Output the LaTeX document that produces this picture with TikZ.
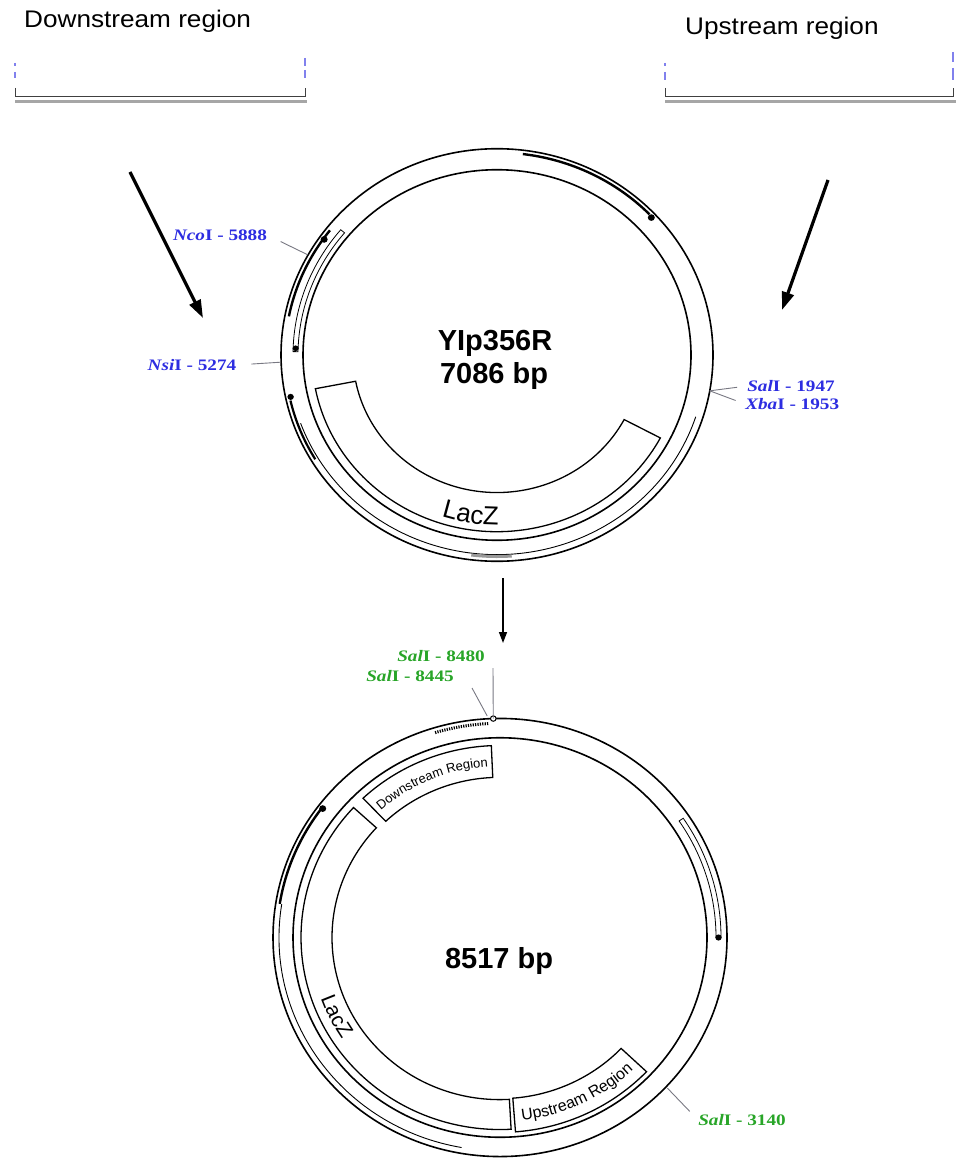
\documentclass[tikz,border=0pt]{standalone}
\usepackage{fontspec}
\setmainfont{Liberation Serif}
\setsansfont{Liberation Sans}
\usetikzlibrary{arrows.meta,decorations.text}
\definecolor{siteblue}{RGB}{45,45,225}
\definecolor{sitegreen}{RGB}{40,165,40}
\definecolor{leadergray}{RGB}{120,120,130}
\newcommand\arcbox[4]{(#1:#3) arc[start angle=#1,end angle=#2,radius=#3] -- (#2:#4) arc[start angle=#2,end angle=#1,radius=#4] -- cycle}
\begin{document}
\begin{tikzpicture}[x=1pt, y=-1pt,
  ringline/.style={line width=1.6pt},
  boxline/.style={line width=1.3pt},
  leader/.style={draw=leadergray, line width=0.9pt},
  bluelab/.style={text=siteblue, font=\bfseries\fontsize{16}{18}\selectfont, xscale=1.2, inner sep=0pt},
  greenlab/.style={text=sitegreen, font=\bfseries\fontsize{16}{18}\selectfont, xscale=1.2, inner sep=0pt},
  headline/.style={font=\sffamily\fontsize{24}{28}\selectfont, xscale=1.09, inner sep=0pt},
  bigtext/.style={font=\sffamily\bfseries\fontsize{29}{33}\selectfont, inner sep=0pt},
  bigarrow/.style={line width=3.2pt, -{Triangle[length=18pt,width=12pt]}},
  smallarrow/.style={line width=1.5pt, -{Triangle[length=11pt,width=8pt]}},
  bracketline/.style={line width=1pt, draw=black!75},
  greyline/.style={line width=3pt, draw=black!35},
  bluetick/.style={line width=1.1pt, draw=siteblue!60},
]
\useasboundingbox (0,0) rectangle (956,1158);

% titles
\node[headline, anchor=base west] (down) at (24,27.5) {Downstream region};
\node[headline, anchor=base west] (up) at (685,35) {Upstream region};

% brackets
\draw[bracketline] (15,88) -- (15,97) -- (305,97) -- (305,88);
\draw[greyline] (15,101.5) -- (307,101.5);
\draw[bluetick] (15,63) -- (15,66) (15,72) -- (15,78) (305,58) -- (305,66) (305,70) -- (305,78);
\draw[bracketline] (665,88) -- (665,97) -- (953,97) -- (953,88);
\draw[greyline] (665,102) -- (956,102);
\draw[bluetick] (665,63) -- (665,66) (665,72) -- (665,80) (953,52) -- (953,62) (953,68) -- (953,80);

% big arrows
\coordinate (la0) at (130,172);
\coordinate (la1) at (203,318);
\coordinate (ra0) at (828,180);
\coordinate (ra1) at (782,310);
\draw[bigarrow] (la0) -- (la1);
\draw[bigarrow] (ra0) -- (ra1);

% ---------- top plasmid ----------
\begin{scope}[shift={(497,355)}, yscale=0.955]
  \draw[ringline] (0,0) circle[radius=216];
  \draw[ringline] (0,0) circle[radius=194];
  \draw[line width=0.9pt] (18:209) arc[start angle=18, end angle=160, radius=209];
  \draw[line width=3pt, black!40] (86:211) arc[start angle=86, end angle=97, radius=211];
  \draw[line width=2.4pt] (277:212) arc[start angle=277, end angle=316, radius=212];
  \fill (317:211) circle[radius=3.5];
  \draw[line width=2.4pt] (191:212) arc[start angle=191, end angle=218, radius=212];
  \fill (215:211) circle[radius=3.5];
  \draw[line width=0.8pt] \arcbox{181}{220}{199}{204};
  \fill (182:201.5) circle[radius=3];
  \draw[line width=2.2pt] (149:212) arc[start angle=149, end angle=167, radius=212];
  \fill (168:211) circle[radius=3.2];
  \draw[boxline] \arcbox{28}{169}{144}{185};
  \path[decorate, decoration={text along path, text align=center,
      text={|\sffamily\fontsize{26}{26}\selectfont|LacZ}}]
      (135:178) arc[start angle=135, end angle=63, radius=178];
  \coordinate (nco) at (209:217);
  \coordinate (nsi) at (178:217);
  \coordinate (salx) at (10:216);
\end{scope}

\node[bigtext, anchor=base] (name) at (495,350) {YIp356R};
\node[bigtext, anchor=base] (size1) at (494,383) {7086 bp};

\node[bluelab] (ncolab) at (220,235) {\textit{Nco}I - 5888};
\node[bluelab] (nsilab) at (192,365) {\textit{Nsi}I - 5274};
\node[bluelab, anchor=west] (sallab) at (747,386) {\textit{Sal}I - 1947};
\node[bluelab, anchor=west] (xbalab) at (745,404) {\textit{Xba}I - 1953};
\draw[leader, shorten <=15pt] (ncolab.east) -- (nco);
\draw[leader, shorten <=15pt] (nsilab.east) -- (nsi);
\draw[leader, shorten >=10pt] (salx) -- (sallab.west);
\draw[leader, shorten >=10pt] (salx) -- (xbalab.west);

% middle arrow
\coordinate (m0) at (503,578);
\coordinate (m1) at (503,643);
\draw[smallarrow] (m0) -- (m1);

% ---------- bottom plasmid ----------
\begin{scope}[shift={(500,937.5)}, yscale=0.965]
  \draw[ringline] (0,0) circle[radius=227];
  \draw[ringline] (0,0) circle[radius=207];
  \draw[line width=0.9pt] (100:221) arc[start angle=100, end angle=189, radius=221];
  \draw[line width=2.4pt] (189:223) arc[start angle=189, end angle=217, radius=223];
  \fill (217:222) circle[radius=3.5];
  \draw[line width=3pt, dash pattern=on 1.2pt off 1.2pt] (253:222) arc[start angle=253, end angle=267, radius=222];
  \draw[line width=0.8pt] \arcbox{326}{360}{216}{221};
  \fill (360:218.5) circle[radius=3.2];
  \draw[boxline] \arcbox{86.8}{222.6}{168}{199};
  \draw[boxline] \arcbox{226.5}{267.5}{166}{199};
  \draw[boxline] \arcbox{43.5}{85.6}{167}{202};
  \path[decorate, decoration={text along path, text align=center,
      text={|\sffamily\fontsize{13}{13}\selectfont|Downstream Region}}]
      (228:177.5) arc[start angle=228, end angle=266, radius=177.5];
  \path[decorate, decoration={text along path, text align=center,
      text={|\sffamily\fontsize{16}{16}\selectfont|Upstream Region}}]
      (85:191) arc[start angle=85, end angle=44, radius=191];
  \path[decorate, decoration={text along path, text align=center,
      text={|\sffamily\fontsize{21}{21}\selectfont|LacZ}}]
      (166:190) arc[start angle=166, end angle=141, radius=190];
  \coordinate (s8480) at (268.3:227);
  \coordinate (s8445) at (266.8:230);
  \coordinate (s3140) at (43:229);
  \filldraw[fill=white, line width=1pt] (s8480) circle[radius=2.8];
\end{scope}

\node[bigtext, anchor=base] (size2) at (499,968) {8517 bp};

\node[greenlab] (l8480) at (441,656) {\textit{Sal}I - 8480};
\node[greenlab] (l8445) at (410,676) {\textit{Sal}I - 8445};
\node[greenlab, anchor=west] (l3140) at (698,1120) {\textit{Sal}I - 3140};
\coordinate (t8480) at (493,668);
\coordinate (t8445) at (472,688);
\draw[leader] (t8480) -- (s8480);
\draw[leader] (t8445) -- (s8445);
\draw[leader, shorten >=12pt] (s3140) -- (l3140.west);
\end{tikzpicture}
\end{document}
